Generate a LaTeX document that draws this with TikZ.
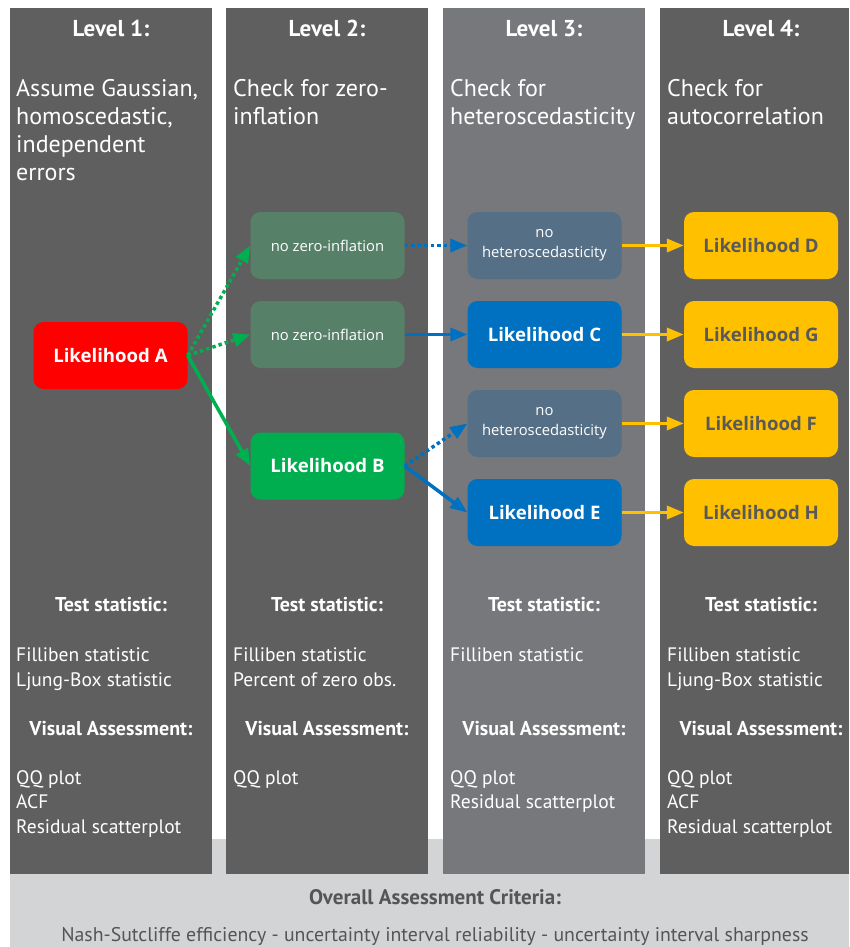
\documentclass[tikz,border=0pt]{standalone}
\usepackage{fontspec}
\setmainfont{PT Sans}
\newfontfamily\boxfont{Open Sans}
\usetikzlibrary{arrows.meta}
\definecolor{coldark}{RGB}{95,95,95}
\definecolor{collight}{RGB}{119,120,123}
\definecolor{bandgray}{RGB}{211,212,214}
\definecolor{bandtext}{RGB}{85,85,85}
\definecolor{likred}{RGB}{255,0,0}
\definecolor{likgreen}{RGB}{0,174,79}
\definecolor{arrgreen}{RGB}{0,176,80}
\definecolor{nozero}{RGB}{86,128,104}
\definecolor{nohet}{RGB}{85,112,134}
\definecolor{likblue}{RGB}{0,112,192}
\definecolor{likyellow}{RGB}{255,192,0}
\definecolor{likgray}{RGB}{89,89,89}

\begin{document}
\begin{tikzpicture}[x=1pt, y=-1pt, every node/.style={inner sep=0pt},
  lik/.style={rounded corners=10pt, minimum width=154pt, minimum height=67pt,
    text=white, font=\boxfont\bfseries\fontsize{18.6}{21}\selectfont},
  note/.style={lik, align=center, font=\boxfont\fontsize{14.8}{20}\selectfont},
  head/.style={anchor=base, text=white, font=\bfseries\fontsize{20}{24}\selectfont},
  level/.style={head, font=\bfseries\fontsize{23}{26}\selectfont},
  entry/.style={anchor=base west, text=white, font=\fontsize{19.5}{23}\selectfont},
  desc/.style={anchor=base west, text=white, font=\fontsize{24}{28}\selectfont},
  arr/.style={line width=3.5pt, -{Triangle[length=17pt,width=13pt]}},
  dots/.style={arr, dash pattern=on 3.5pt off 3pt}]
  \useasboundingbox (0,0) rectangle (849,947);

  % background band and columns
  \fill[bandgray] (10,839) rectangle (849,947);
  \foreach \n/\xa/\xb/\c in {1/10/212/coldark, 2/226/428/coldark, 3/443/645/collight, 4/660/849/coldark}
    \fill[\c] (\xa,8) rectangle (\xb,874);

  % headings
  \foreach \n/\x in {1/111, 2/327, 3/544, 4/761} {
    \node[level] (lev\n) at (\x,37) {Level \n:};
    \node[head] (test\n) at (\x,611) {Test statistic:};
    \node[head] (vis\n) at (\x,735) {Visual Assessment:};
  }

  % level descriptions
  \foreach \t [count=\i] in {{Assume Gaussian,}, {homoscedastic,}, independent, errors}
    \node[desc] (da\i) at (16,69.3+27.7*\i) {\t};
  \foreach \t [count=\i] in {Check for zero-, inflation}
    \node[desc] (db\i) at (233,69.3+27.7*\i) {\t};
  \foreach \t [count=\i] in {Check for, heteroscedasticity}
    \node[desc] (dc\i) at (450,69.3+27.7*\i) {\t};
  \foreach \t [count=\i] in {Check for, autocorrelation}
    \node[desc] (dd\i) at (667,69.3+27.7*\i) {\t};

  % test statistics
  \foreach \x/\t/\i in {16/Filliben statistic/1, 16/Ljung-Box statistic/2,
                        233/Filliben statistic/1, 233/Percent of zero obs./2,
                        450/Filliben statistic/1,
                        667/Filliben statistic/1, 667/Ljung-Box statistic/2}
    \node[entry] (ts\x-\i) at (\x,636+25*\i) {\t};

  % visual assessment
  \foreach \x/\t/\i in {16/QQ plot/1, 16/ACF/2, 16/Residual scatterplot/3,
                        233/QQ plot/1,
                        450/QQ plot/1, 450/Residual scatterplot/2,
                        667/QQ plot/1, 667/ACF/2, 667/Residual scatterplot/3}
    \node[entry] (va\x-\i) at (\x,759.5+24.5*\i) {\t};

  % likelihood boxes
  \node[lik, fill=likred] (A) at (110.5,355.5) {Likelihood A};
  \node[note, fill=nozero] (nz1) at (327.5,245.5) {no zero-inflation};
  \node[note, fill=nozero] (nz2) at (327.5,334.5) {no zero-inflation};
  \node[lik, fill=likgreen] (B) at (327.5,466) {Likelihood B};
  \node[note, fill=nohet] (nh1) at (544.5,245.5) {no\\heteroscedasticity};
  \node[lik, fill=likblue] (C) at (544.5,334.5) {Likelihood C};
  \node[note, fill=nohet] (nh2) at (544.5,423.5) {no\\heteroscedasticity};
  \node[lik, fill=likblue] (E) at (544.5,512.5) {Likelihood E};
  \foreach \n/\y in {D/245.5, G/334.5, F/423.5, H/512.5}
    \node[lik, fill=likyellow, text=likgray] (\n) at (761,\y) {Likelihood \n};

  % connectors
  \draw[dots, arrgreen] (A.east) -- (nz1.west);
  \draw[dots, arrgreen] (A.east) -- (nz2.west);
  \draw[arr, arrgreen] (A.east) -- (B.west);
  \draw[dots, likblue] (nz1.east) -- (nh1.west);
  \draw[arr, likblue] (nz2.east) -- (C.west);
  \draw[dots, likblue] (B.east) -- (nh2.west);
  \draw[arr, likblue] (B.east) -- (E.west);
  \foreach \a/\b in {nh1/D, C/G, nh2/F, E/H}
    \draw[arr, likyellow] (\a.east) -- (\b.west);

  % overall criteria
  \node[anchor=base, text=bandtext, font=\bfseries\fontsize{21}{24}\selectfont] (crit) at (435,904) {Overall Assessment Criteria:};
  \node[anchor=base, text=bandtext, font=\fontsize{19.8}{23}\selectfont] (critlist) at (435,941) {Nash-Sutcliffe efficiency - uncertainty interval reliability - uncertainty interval sharpness};
\end{tikzpicture}
\end{document}
